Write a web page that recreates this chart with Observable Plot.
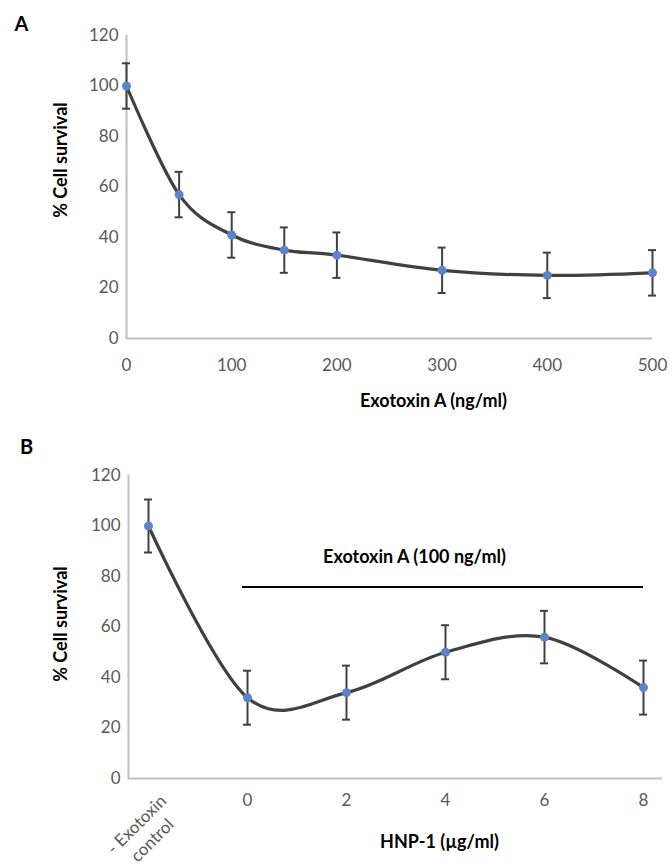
<!DOCTYPE html>
<html><head><meta charset="utf-8">
<script src="https://cdn.jsdelivr.net/npm/d3@7"></script>
<script src="https://cdn.jsdelivr.net/npm/@observablehq/plot@0.6"></script>
<style>
body{margin:0;background:#fff;}
#fig{width:672px;height:865px;overflow:hidden;}
#fig svg{display:block;}
</style></head><body>
<div id="fig"></div>
<script>
// Panel A data
const doseA = [0, 50, 100, 150, 200, 300, 400, 500];
const survivalA = [100, 57, 41, 35, 33, 27, 25, 26];
const errA = [9, 9, 9, 9, 9, 9, 9, 9];
const ticksA = [0, 100, 200, 300, 400, 500];
// Panel B data
const groupsB = ["control", "0", "2", "4", "6", "8"];
const controlLabelB = "- Exotoxin\ncontrol";
const survivalB = [100, 32, 34, 50, 56, 36];
const errB = [10.5, 10.7, 10.7, 10.7, 10.4, 10.7];
const bracketB = [{from: "0", to: "8", mid: "4", level: 75.8, label: "Exotoxin A (100 ng/ml)"}];
const yTicks = [0, 20, 40, 60, 80, 100, 120];
const titles = {panelA: "A", panelB: "B", y: "% Cell survival", xA: "Exotoxin A (ng/ml)", xB: "HNP-1 (\u00b5g/ml)"};

const FONT = "Lato, 'Open Sans', sans-serif";
const LINE = "#404040", DOT = "#5b84cc", AXIS = "#c0c0c0", TICK = "#595959";
const TICKSIZE = 17, TITLESIZE = 18;

const dataA = doseA.map((d, i) => ({x: d, s: survivalA[i], e: errA[i]}));
const dataB = groupsB.map((g, i) => ({x: g, s: survivalB[i], e: errB[i]}));

function seriesMarks(data) {
  return [
    Plot.ruleX(data, {x: "x", y1: d => d.s - d.e, y2: d => d.s + d.e, stroke: LINE, strokeWidth: 2}),
    Plot.ruleY(data, {x1: "x", x2: "x", y: d => d.s + d.e, insetLeft: -4, insetRight: -4, stroke: LINE, strokeWidth: 2}),
    Plot.ruleY(data, {x1: "x", x2: "x", y: d => d.s - d.e, insetLeft: -4, insetRight: -4, stroke: LINE, strokeWidth: 2}),
    Plot.line(data, {x: "x", y: "s", curve: "catmull-rom", tension: 0, stroke: LINE, strokeWidth: 3.2}),
    Plot.dot(data, {x: "x", y: "s", r: 4.5, fill: DOT, stroke: "none"})
  ];
}

const boldText = {fontWeight: "bold", fontFamily: FONT, fill: "black", textAnchor: "middle", lineAnchor: "middle"};

const chartA = Plot.plot({
  width: 672, height: 425,
  marginLeft: 126, marginRight: 20, marginTop: 35, marginBottom: 87,
  style: {fontFamily: FONT, fontSize: TICKSIZE + "px", color: TICK, background: "white"},
  x: {type: "linear", domain: [0, 500]},
  y: {domain: [0, 120]},
  marks: [
    Plot.ruleY([0], {stroke: AXIS, strokeWidth: 2}),
    Plot.ruleX([0], {y1: 0, y2: 120, stroke: AXIS, strokeWidth: 2}),
    Plot.axisY(yTicks, {tickSize: 0, tickPadding: 8, label: null, fill: TICK, fontSize: TICKSIZE}),
    Plot.axisX(ticksA, {tickSize: 0, tickPadding: 20, label: null, fill: TICK, fontSize: TICKSIZE}),
    ...seriesMarks(dataA),
    Plot.text([titles.y], {frameAnchor: "left", rotate: -90, dx: -65, dy: -27, fontSize: TITLESIZE, ...boldText}),
    Plot.text([titles.xA], {frameAnchor: "bottom", dx: 44, dy: 63, fontSize: TITLESIZE, ...boldText}),
    Plot.text([titles.panelA], {frameAnchor: "top-left", dx: -105, dy: -11, fontSize: 20, ...boldText})
  ]
});

const chartB = Plot.plot({
  width: 672, height: 440,
  marginLeft: 128, marginRight: 10, marginTop: 50, marginBottom: 87,
  style: {fontFamily: FONT, fontSize: TICKSIZE + "px", color: TICK, background: "white"},
  x: {type: "point", domain: groupsB, padding: 0.18},
  y: {domain: [0, 120]},
  marks: [
    Plot.ruleY([0], {stroke: AXIS, strokeWidth: 2}),
    Plot.frame({anchor: "left", stroke: AXIS, strokeWidth: 2}),
    Plot.axisY(yTicks, {tickSize: 0, tickPadding: 8, label: null, fill: TICK, fontSize: TICKSIZE}),
    Plot.axisX(groupsB.slice(1), {tickSize: 0, tickPadding: 15, label: null, fill: TICK, fontSize: TICKSIZE}),
    Plot.text(groupsB.slice(0, 1), {x: d => d, frameAnchor: "bottom", text: () => controlLabelB, rotate: -45,
      textAnchor: "middle", lineAnchor: "middle", lineHeight: 1.3, dx: -5, dy: 53, fill: TICK, fontSize: TICKSIZE}),
    Plot.ruleY(bracketB, {x1: "from", x2: "to", y: "level", insetLeft: -5, stroke: "black", strokeWidth: 2}),
    Plot.text(bracketB, {x: "mid", y: "level", text: "label", dx: -31, dy: -30, fontSize: TITLESIZE, ...boldText}),
    ...seriesMarks(dataB),
    Plot.text([titles.y], {frameAnchor: "left", rotate: -90, dx: -67, dy: -3, fontSize: TITLESIZE, ...boldText}),
    Plot.text([titles.xB], {frameAnchor: "bottom", dx: 44, dy: 64, fontSize: TITLESIZE, ...boldText}),
    Plot.text([titles.panelB], {frameAnchor: "top-left", dx: -102, dy: -28, fontSize: 20, ...boldText})
  ]
});

const fig = document.getElementById("fig");
fig.appendChild(chartA);
fig.appendChild(chartB);
</script>
</body></html>
